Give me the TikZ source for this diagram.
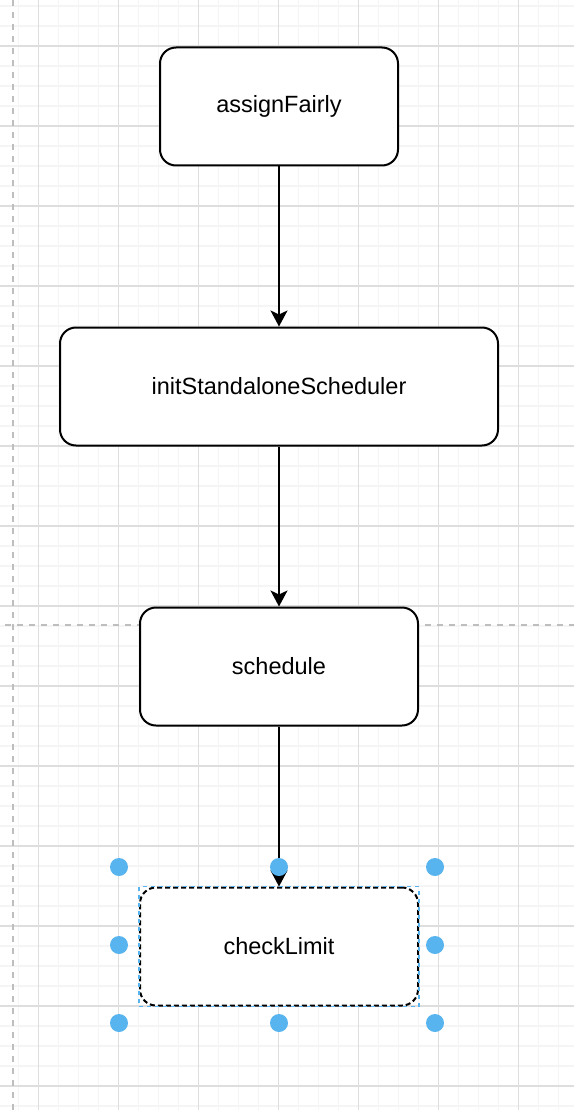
\documentclass[tikz,border=0pt]{standalone}
\usepackage{fontspec}
\setmainfont{Liberation Sans}
\usetikzlibrary{arrows.meta,positioning}
\definecolor{gridminor}{RGB}{245,245,245}
\definecolor{gridmajor}{RGB}{222,222,222}
\definecolor{pagebreak}{RGB}{190,190,190}
\definecolor{selblue}{RGB}{88,180,238}
\tikzset{
  funcbox/.style={draw, rounded corners=16pt, fill=white, line width=2pt,
    minimum height=118pt, align=center,
    font=\fontsize{23.5}{28}\selectfont},
  arr/.style={-{Stealth[length=16pt, width=17pt, inset=4pt]}, line width=2pt},
  handle/.style={circle, fill=selblue, inner sep=0pt, minimum size=18pt},
}

\begin{document}
\begin{tikzpicture}[x=1pt, y=-1pt]
  \useasboundingbox (0,0) rectangle (574,1110);

  % grid
  \foreach \gx in {18.7,38.7,...,574} {
    \draw[gridminor, line width=1.2pt] (\gx,0) -- (\gx,1110);
  }
  \foreach \gy in {6,26,...,1110} {
    \draw[gridminor, line width=1.2pt] (0,\gy) -- (574,\gy);
  }
  \foreach \gx in {38.7,118.7,...,574} {
    \draw[gridmajor, line width=1.2pt] (\gx,0) -- (\gx,1110);
  }
  \foreach \gy in {46,126,...,1110} {
    \draw[gridmajor, line width=1.2pt] (0,\gy) -- (574,\gy);
  }

  % page breaks
  \draw[pagebreak, line width=2pt, dash pattern=on 6pt off 6pt] (13,0) -- (13,1110);
  \draw[pagebreak, line width=2pt, dash pattern=on 6pt off 6pt] (5,624.5) -- (574,624.5);

  % steps
  \node[funcbox, minimum width=238pt] (assign) at (279,106.5) {assignFairly};
  \node[funcbox, minimum width=438pt] (init) at (279,386.5) {initStandaloneScheduler};
  \node[funcbox, minimum width=278pt] (sched) at (279,666.5) {schedule};
  \node[funcbox, minimum width=278pt, dash pattern=on 5pt off 3pt] (check) at (279,946.5) {checkLimit};

  \draw[arr] (assign) -- (init);
  \draw[arr] (init) -- (sched);
  \draw[arr] (sched) -- (check);

  % selection
  \draw[selblue, line width=1.5pt, dash pattern=on 4pt off 4pt, dash phase=4pt]
    (check.south west) rectangle (check.north east);
  \foreach \hx/\hy [count=\i] in {119/867, 279/867, 435/867, 119/945, 435/945,
      119/1023, 279/1023, 435/1023} {
    \node[handle] (h\i) at (\hx,\hy) {};
  }
\end{tikzpicture}
\end{document}
